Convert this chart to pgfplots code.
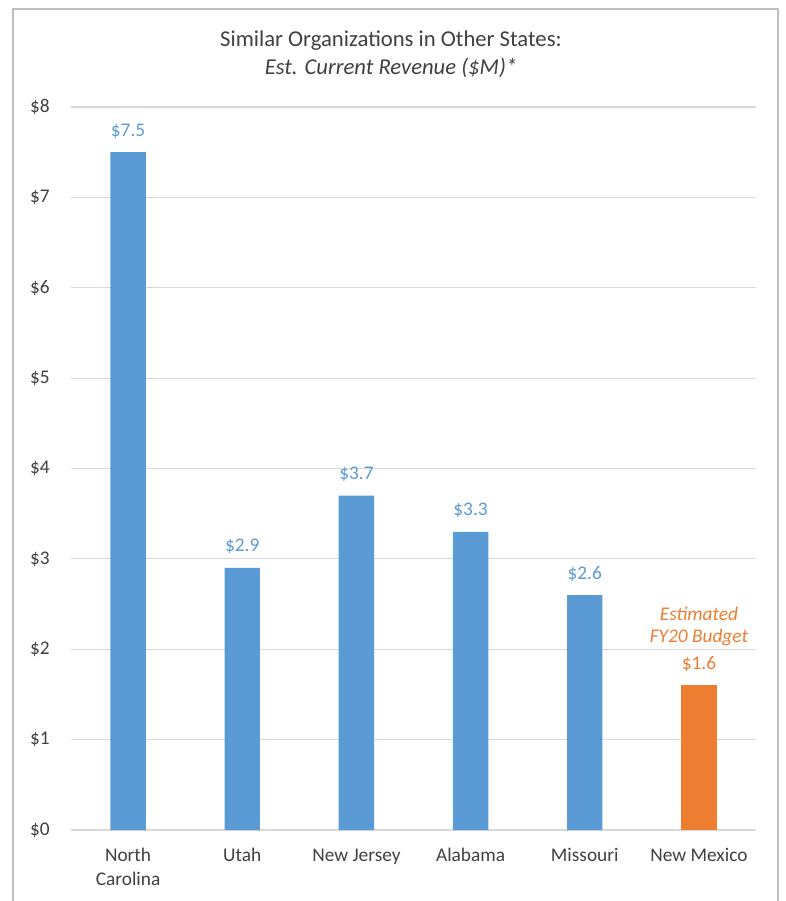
\documentclass[border=0pt]{standalone}
\usepackage{pgfplots}
\pgfplotsset{compat=1.18}
\usepackage{fontspec}
\setmainfont{Carlito}
\definecolor{barblue}{HTML}{5B9BD5}
\definecolor{barorange}{HTML}{ED7D31}
\definecolor{gridgray}{HTML}{D9D9D9}
\definecolor{txtgray}{HTML}{404040}
\definecolor{framegray}{HTML}{BFBFBF}
\begin{document}
\begin{tikzpicture}
\useasboundingbox (-53.25pt,-53.25pt) rectangle (536.25pt,622.5pt);
\draw[framegray, line width=1.2pt] (-43.5pt,-70pt) rectangle (530.25pt,615.75pt);
\begin{axis}[
  at={(0,0)}, anchor=south west,
  scale only axis,
  width=513.75pt, height=542.25pt,
  ybar, bar shift=0pt, bar width=0.31,
  xmin=-0.5, xmax=5.5,
  ymin=0, ymax=8,
  xtick={0,1,2,3,4,5},
  xticklabels={\strut North\\Carolina, \strut Utah, \strut New Jersey, \strut Alabama, \strut Missouri, \strut New Mexico},
  ytick={0,1,2,3,4,5,6,7,8},
  yticklabels={\$0,\$1,\$2,\$3,\$4,\$5,\$6,\$7,\$8},
  major tick length=0pt,
  ymajorgrids, grid style={gridgray, line width=0.9pt},
  axis line style={draw=none},
  x axis line style={draw=none},
  tick label style={font=\fontsize{14.5}{17.5}\selectfont, text=txtgray},
  xticklabel style={align=center, anchor=north, yshift=-8pt},
  yticklabel style={xshift=-12.5pt},
  nodes near coords,
  nodes near coords style={font=\fontsize{14.5}{17.5}\selectfont, anchor=base, yshift=12pt},
  point meta=explicit symbolic,
  clip=false,
]
\draw[gridgray, line width=0.9pt] (axis cs:-0.5,0) -- (axis cs:5.5,0);
\addplot[fill=barblue, draw=none, nodes near coords style={text=barblue}] coordinates {
  (0,7.5) [\$7.5]
  (1,2.9) [\$2.9]
  (2,3.7) [\$3.7]
  (3,3.3) [\$3.3]
  (4,2.6) [\$2.6]
};
\addplot[fill=barorange, draw=none, nodes near coords style={text=barorange}] coordinates {
  (5,1.6) [\$1.6]
};
\node[anchor=base, text=barorange, font=\fontsize{14.5}{17.5}\selectfont\itshape] at (axis cs:5,2.32) {Estimated};
\node[anchor=base, text=barorange, font=\fontsize{14.5}{17.5}\selectfont\itshape] at (axis cs:5,2.07) {FY20 Budget};
\end{axis}
\node[anchor=base, text=txtgray, font=\fontsize{17}{20}\selectfont] at (240pt,587.25pt) {Similar Organizations in Other States:};
\node[anchor=base, text=txtgray, font=\fontsize{17}{20}\selectfont\itshape] at (240pt,566.25pt) {Est. Current Revenue (\$M)*};
\end{tikzpicture}
\end{document}
